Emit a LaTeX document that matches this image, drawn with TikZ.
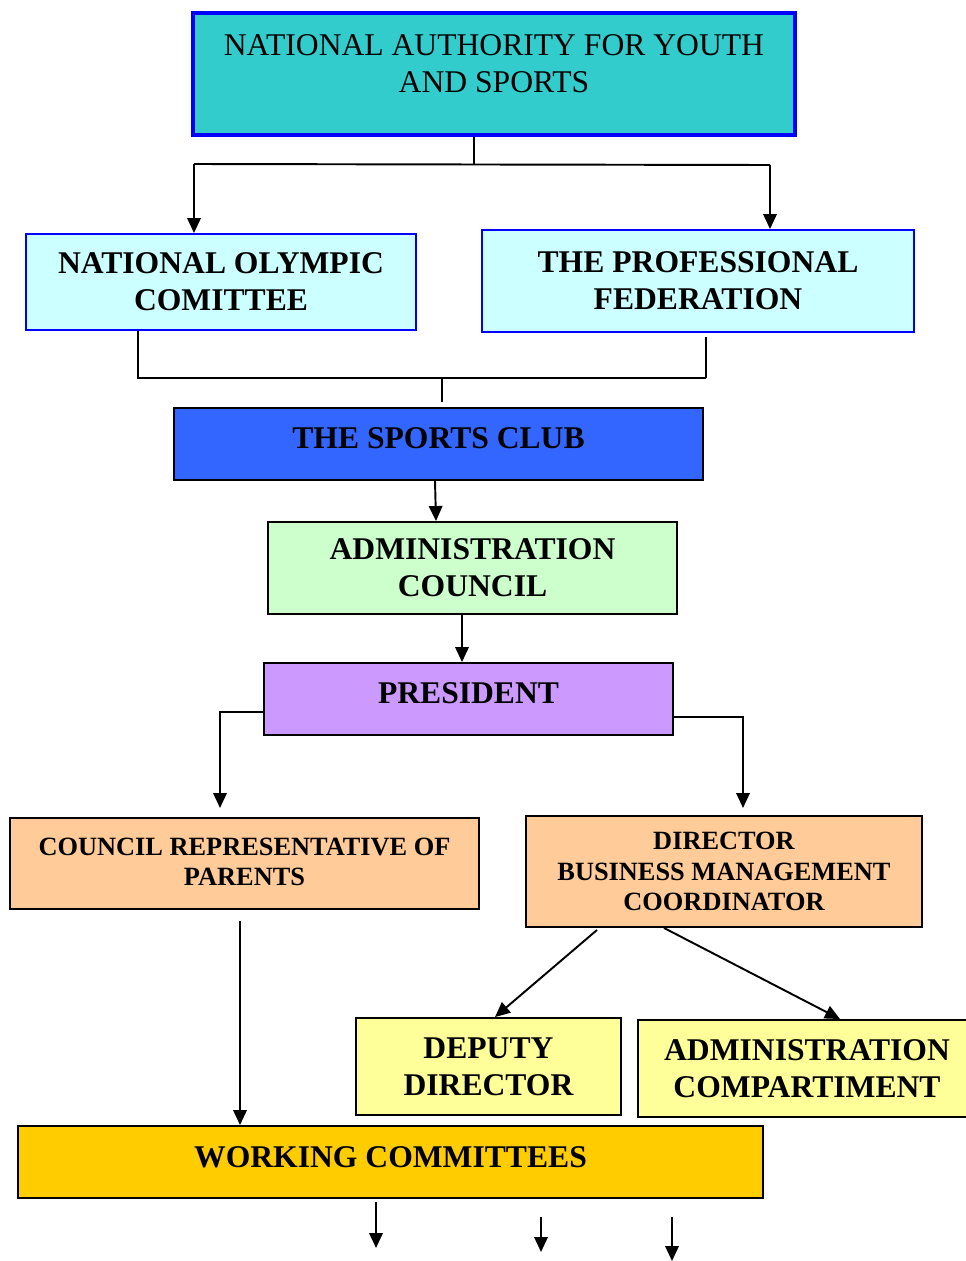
\documentclass[tikz,border=0pt]{standalone}
\usepackage{fontspec}
\setmainfont{Liberation Serif}
\usetikzlibrary{arrows.meta}
\definecolor{cteal}{HTML}{33CCCC}
\definecolor{ccyan}{HTML}{CCFFFF}
\definecolor{cblue}{HTML}{0000FF}
\definecolor{cclub}{HTML}{3366FF}
\definecolor{cgreen}{HTML}{CCFFCC}
\definecolor{cpurple}{HTML}{CC99FF}
\definecolor{cpeach}{HTML}{FFCC99}
\definecolor{cyellow}{HTML}{FFFF99}
\definecolor{cgold}{HTML}{FFCC00}
\tikzset{
  box/.style={draw=black, line width=1.1pt, rectangle, inner sep=0pt, align=center,
    font=\fontsize{18}{21}\selectfont\bfseries},
  smallbox/.style={box, font=\fontsize{15}{17.3}\selectfont\bfseries},
  conn/.style={line width=1.1pt, black},
  arr/.style={conn, -{Triangle[length=0.3cm,width=0.27cm]}},
}
\begin{document}
\begin{tikzpicture}[x=0.02cm,y=-0.02cm]
\useasboundingbox (0,0) rectangle (966,1261);
% boxes
\node[box, fill=cteal, draw=cblue, line width=2.4pt, minimum width=12.04cm, minimum height=2.44cm] (top) at (494,74) {};
\node[font=\fontsize{18}{21}\selectfont, align=center, inner sep=0pt] (toptext) at (494,63.5) {NATIONAL AUTHORITY FOR YOUTH\\AND SPORTS};
\node[box, fill=ccyan, draw=cblue, minimum width=7.8cm, minimum height=1.92cm] (noc) at (221,282) {NATIONAL OLYMPIC\\COMITTEE};
\node[box, fill=ccyan, draw=cblue, minimum width=8.64cm, minimum height=2.04cm] (pf) at (698,281) {THE PROFESSIONAL\\FEDERATION};
\node[box, fill=cclub, minimum width=10.58cm, minimum height=1.44cm, text depth=0.24cm] (sc) at (438.5,444) {THE SPORTS CLUB};
\node[box, fill=cgreen, minimum width=8.18cm, minimum height=1.84cm] (ac) at (472.5,568) {ADMINISTRATION\\COUNCIL};
\node[box, fill=cpurple, minimum width=8.18cm, minimum height=1.44cm, text depth=0.24cm] (pres) at (468.5,699) {PRESIDENT};
\node[smallbox, fill=cpeach, minimum width=9.38cm, minimum height=1.82cm, text depth=0.06cm] (crp) at (244.5,863.5) {COUNCIL REPRESENTATIVE OF\\PARENTS};
\node[smallbox, fill=cpeach, minimum width=7.92cm, minimum height=2.22cm] (dir) at (724,871.5) {DIRECTOR\\BUSINESS MANAGEMENT\\COORDINATOR};
\node[box, fill=cyellow, minimum width=5.3cm, minimum height=1.94cm] (dep) at (488.5,1066.5) {DEPUTY\\DIRECTOR};
\node[box, fill=cyellow, minimum width=6.76cm, minimum height=1.94cm] (adc) at (807,1068.5) {ADMINISTRATION\\COMPARTIMENT};
\node[box, fill=cgold, minimum width=14.9cm, minimum height=1.44cm, text depth=0.2cm] (wc) at (390.5,1162) {WORKING COMMITTEES};
% connectors: top level
\coordinate (tm) at (474,164);
\coordinate (tl) at (194,164);
\coordinate (tr) at (770,165);
\draw[conn, line width=0.8pt] (tm |- top.south) -- (tm);
\draw[conn] (tl) -- (tr);
\draw[arr] (tl) -- (tl |- noc.north);
\draw[arr] (tr) -- (tr |- pf.north);
% join to sports club
\coordinate (bl) at (138,378);
\coordinate (br) at (706,378);
\coordinate (bm) at (442,379);
\coordinate (bm2) at (442,402);
\draw[conn] (bl |- noc.south) -- (bl) -- (br);
\draw[conn] ([yshift=-0.08cm]br |- pf.south) -- (br);
\draw[conn, line width=0.8pt] (bm) -- (bm2);
% chain
\draw[arr] ([xshift=-0.07cm]sc.south) -- ([xshift=-0.73cm]ac.north);
\draw[arr] ([xshift=-0.21cm]ac.south) -- ([xshift=-0.13cm]pres.north);
\coordinate (cl) at (220,808);
\coordinate (cr) at (743,808);
\draw[arr] ([yshift=-0.26cm]pres.west) -| (cl);
\draw[arr] ([yshift=-0.36cm]pres.east) -| (cr);
\coordinate (c3) at (240,921);
\draw[arr] (c3) -- (c3 |- wc.north);
\draw[arr] ([xshift=-2.54cm,yshift=-0.04cm]dir.south) -- ([xshift=0.13cm]dep.north);
\draw[arr] ([xshift=-1.2cm]dir.south) -- ([xshift=0.66cm]adc.north);
% bottom free arrows
\coordinate (a1s) at (376,1202); \coordinate (a1e) at (376,1248);
\coordinate (a2s) at (541,1217); \coordinate (a2e) at (541,1252);
\coordinate (a3s) at (672,1217); \coordinate (a3e) at (672,1261);
\draw[arr] (a1s) -- (a1e);
\draw[arr] (a2s) -- (a2e);
\draw[arr] (a3s) -- (a3e);
\end{tikzpicture}
\end{document}
